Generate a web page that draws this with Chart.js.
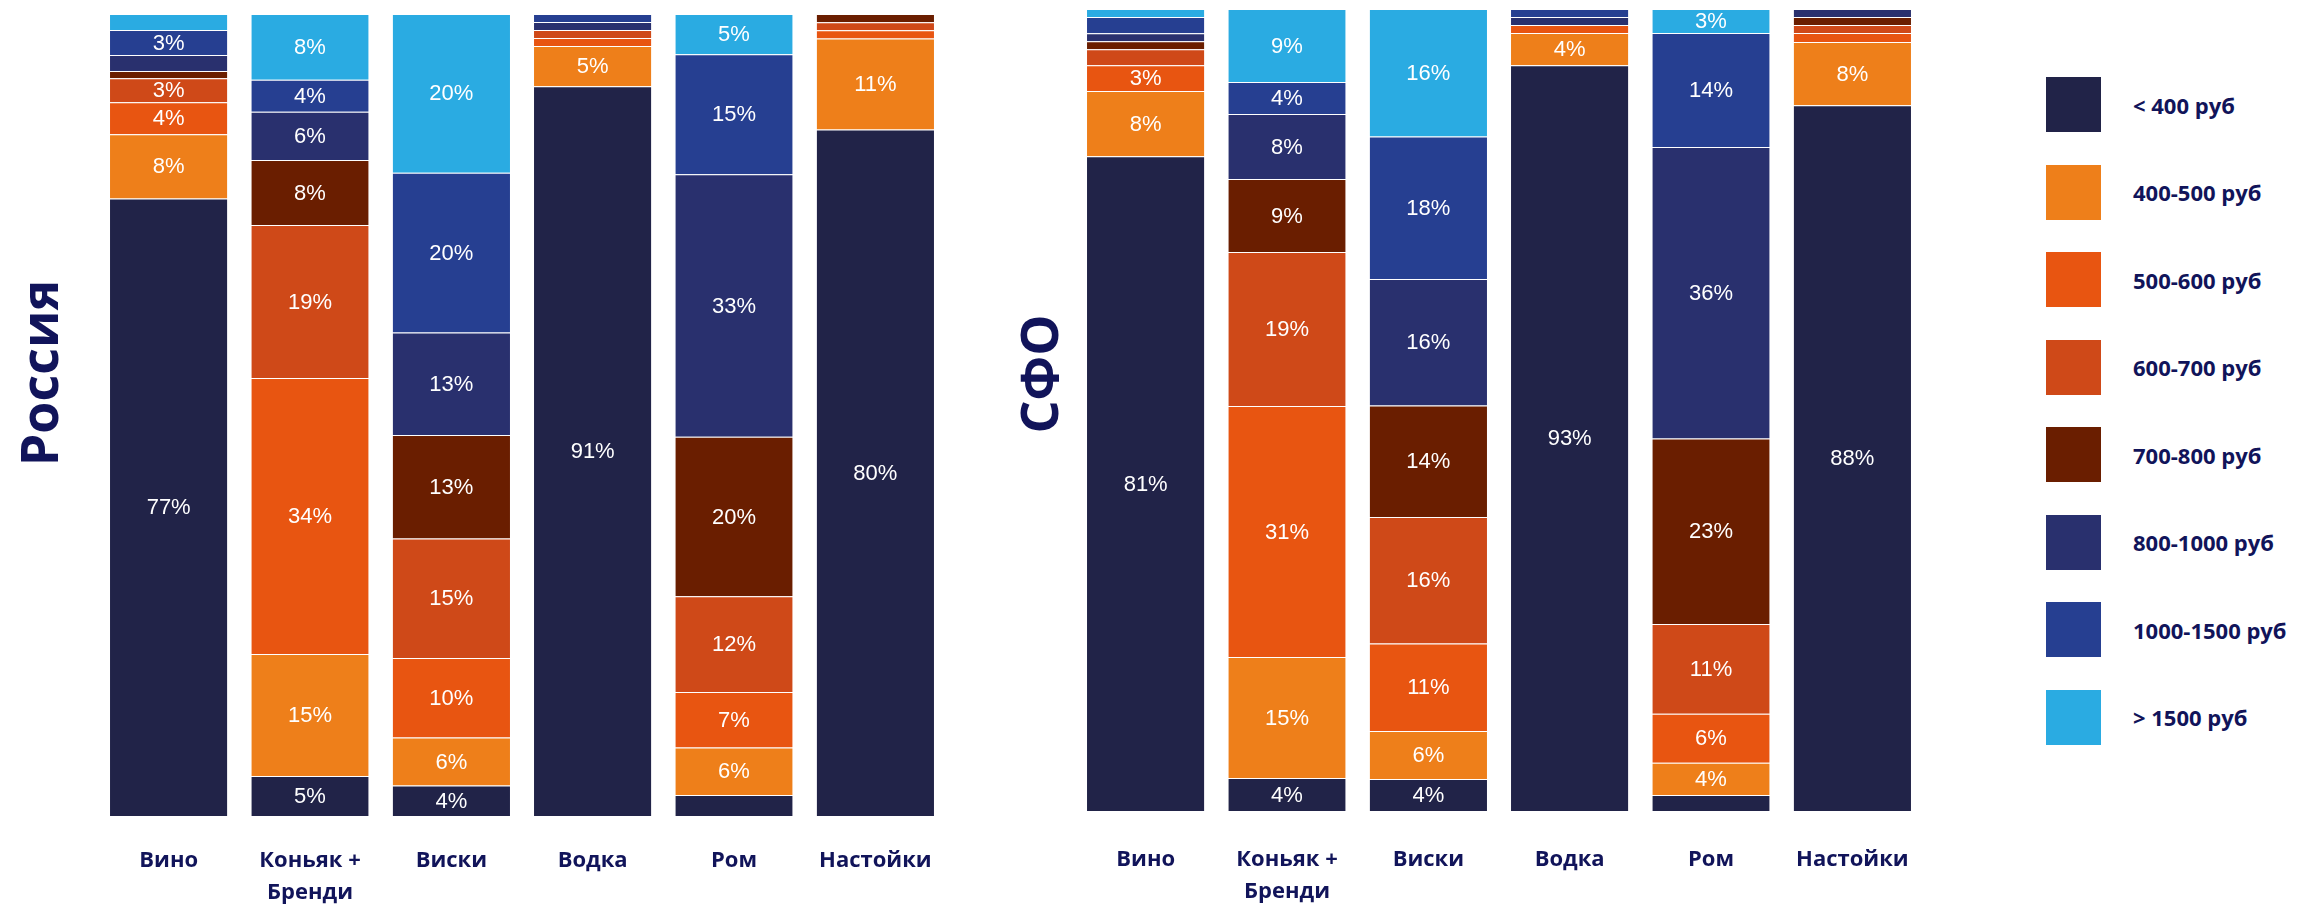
<!DOCTYPE html>
<html lang="ru">
<head>
<meta charset="utf-8">
<title>Цены по категориям: Россия и СФО</title>
<script src="https://cdn.jsdelivr.net/npm/chart.js@4/dist/chart.umd.min.js"></script>
<style>
  html, body { margin: 0; padding: 0; background: #fff; }
  body { width: 2300px; height: 906px; position: relative; overflow: hidden; font-family: 'Open Sans', sans-serif; }
  .box { position: absolute; }
  .side-title {
    position: absolute; font-weight: 700; font-size: 52px; line-height: 1; color: #11145a;
    white-space: nowrap; transform: translate(-50%, -50%) rotate(-90deg);
  }
  #legend { position: absolute; left: 2046px; top: 77px; }
  .item { display: flex; align-items: center; height: 55px; margin-bottom: 32.5px; }
  .item span.sw { width: 55px; height: 55px; margin-right: 32px; }
  .item span.tx { font-weight: 700; font-size: 22px; color: #11145a; white-space: nowrap; }
</style>
</head>
<body>
<div class="side-title" style="left:38px; top:373px;">Россия</div>
<div class="side-title" style="left:1038px; top:374px;">СФО</div>
<div class="box" style="left:98px; top:14px; width:848px; height:892px;"><canvas id="russia"></canvas></div>
<div class="box" style="left:1075px; top:9px; width:848px; height:897px;"><canvas id="sfo"></canvas></div>
<div id="legend"></div>

<script>
// categories and price bands
const categories = ['Вино', ['Коньяк +', 'Бренди'], 'Виски', 'Водка', 'Ром', 'Настойки'];
const priceBands = ['< 400 руб', '400-500 руб', '500-600 руб', '600-700 руб',
                    '700-800 руб', '800-1000 руб', '1000-1500 руб', '> 1500 руб'];
const bandColors = ['#212348', '#ee7f1a', '#e85511', '#cf4918',
                    '#6a1e00', '#29306e', '#263f91', '#2aabe2'];

// Россия, % by band (Вино, Коньяк, Виски, Водка, Ром, Настойки)
const rusUnder400 = [77, 5.0, 3.8, 91, 2.6, 80];
const rus400_500  = [8, 15.2, 6.0, 5, 5.9, 10.6];
const rus500_600  = [4, 34.4, 9.9, 1, 6.9, 0.95];
const rus600_700  = [3, 19.1, 14.9, 1, 11.9, 0.95];
const rus700_800  = [0.9, 8.1, 12.9, 0, 19.8, 0.95];
const rus800_1000 = [2, 6.0, 12.8, 1, 32.6, 0];
const rus1000_1500 = [3.1, 4.0, 19.9, 1, 14.9, 0];
const rusOver1500 = [2, 8.2, 19.8, 0, 5.0, 0];

// СФО
const sfoUnder400 = [81.4, 4.1, 4.0, 93, 2.0, 88];
const sfo400_500  = [8.1, 15.1, 6.0, 4.0, 4.0, 7.9];
const sfo500_600  = [3.2, 31.3, 10.9, 1, 6.1, 1.1];
const sfo600_700  = [2, 19.2, 15.8, 0, 11.2, 1];
const sfo700_800  = [1, 9.1, 13.9, 0, 23.1, 1];
const sfo800_1000 = [1, 8.1, 15.8, 1, 36.3, 1];
const sfo1000_1500 = [2, 4.0, 17.8, 1, 14.2, 0];
const sfoOver1500 = [1, 9.1, 15.9, 0, 3.0, 0];

const NAVY = '#11145a';

// white % labels inside the segments (small ones are left blank)
const segmentLabels = {
  id: 'segmentLabels',
  afterDatasetsDraw(chart) {
    const ctx = chart.ctx;
    ctx.save();
    ctx.font = '22px "Liberation Sans", Arial, sans-serif';
    ctx.fillStyle = '#fff';
    ctx.textAlign = 'center';
    ctx.textBaseline = 'middle';
    chart.data.datasets.forEach((ds, i) => {
      chart.getDatasetMeta(i).data.forEach((bar, j) => {
        const v = ds.raw[j];
        if (!v || v < 2.8) return;
        ctx.fillText(Math.round(v) + '%', bar.x, (bar.y + bar.base) / 2 + 1);
      });
    });
    ctx.restore();
  }
};

function makeChart(id, rows, gap) {
  // 100% stacked: each column is scaled to its own total
  const totals = categories.map((c, j) => rows.reduce((s, r) => s + r[j], 0));
  const datasets = rows.map((row, i) => ({
    label: priceBands[i],
    raw: row,
    data: row.map((v, j) => v ? v / totals[j] * 100 : null),
    backgroundColor: bandColors[i],
    borderColor: 'rgba(255,255,255,0.22)',
    borderWidth: { top: 1, left: 0, right: 0, bottom: 0 },
    borderSkipped: false,
    categoryPercentage: 1,
    barPercentage: 0.83
  }));

  return new Chart(document.getElementById(id), {
    type: 'bar',
    data: { labels: categories, datasets },
    options: {
      responsive: true,
      maintainAspectRatio: false,
      devicePixelRatio: 1,
      animation: false,
      layout: { padding: 0 },
      plugins: { legend: { display: false }, tooltip: { enabled: false } },
      scales: {
        x: {
          stacked: true,
          // invisible tick marks give the gap under the bars
          grid: { display: true, drawOnChartArea: false, drawTicks: true, tickLength: gap, color: 'rgba(0,0,0,0)' },
          border: { display: false },
          ticks: {
            autoSkip: false, maxRotation: 0, padding: 0, color: NAVY,
            font: { family: "'Open Sans'", size: 22, weight: 'bold', lineHeight: '32px' }
          },
          afterFit(scale) { scale.height = scale.chart.height - 802; }
        },
        y: { stacked: true, min: 0, max: 100, display: false }
      }
    },
    plugins: [segmentLabels]
  });
}

makeChart('russia', [rusUnder400, rus400_500, rus500_600, rus600_700,
                     rus700_800, rus800_1000, rus1000_1500, rusOver1500], 29);
makeChart('sfo', [sfoUnder400, sfo400_500, sfo500_600, sfo600_700,
                  sfo700_800, sfo800_1000, sfo1000_1500, sfoOver1500], 33);

// legend
const legend = document.getElementById('legend');
priceBands.forEach((name, i) => {
  const item = document.createElement('div');
  item.className = 'item';
  item.innerHTML = '<span class="sw" style="background:' + bandColors[i] + '"></span><span class="tx"></span>';
  item.querySelector('.tx').textContent = name;
  legend.appendChild(item);
});
</script>
</body>
</html>
